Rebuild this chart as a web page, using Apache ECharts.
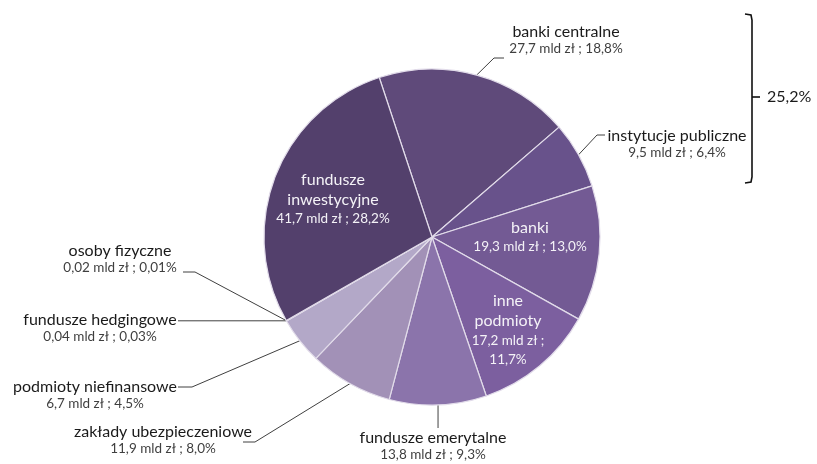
<!DOCTYPE html>
<html>
<head>
<meta charset="utf-8">
<script src="https://cdn.jsdelivr.net/npm/echarts@6/dist/echarts.min.js"></script>
<style>
  html, body { margin: 0; padding: 0; background: #ffffff; }
  #chart { width: 817px; height: 464px; }
</style>
</head>
<body>
<div id="chart"></div>
<script>
// Holders, listed clockwise from the top of the pie
const categories = [
  'banki centralne', 'instytucje publiczne', 'banki', 'inne podmioty',
  'fundusze emerytalne', 'zakłady ubezpieczeniowe', 'podmioty niefinansowe',
  'fundusze hedgingowe', 'osoby fizyczne', 'fundusze inwestycyjne'
];
// Holdings in mld zł
const holdings = [27.7, 9.5, 19.3, 17.2, 13.8, 11.9, 6.7, 0.04, 0.02, 41.7];
// Share of total, %
const shares = [18.8, 6.4, 13.0, 11.7, 9.3, 8.0, 4.5, 0.03, 0.01, 28.2];
// Categories grouped by the bracket on the right
const bracketGroup = [0, 1];

const sliceColors = [
  '#5F4A7A', '#68528B', '#735A94', '#7C5F9F', '#8B74AB',
  '#A291B7', '#B3A8C8', '#B3A8C8', '#B3A8C8', '#53406C'
];

// Wrapped names for labels drawn inside the slices
const insideNames = {
  2: 'banki',
  3: 'inne\npodmioty',
  9: 'fundusze\ninwestycyjne'
};

const FONT = 'Lato, "Open Sans", sans-serif';

function fmtNum(v, digits) {
  return v.toFixed(digits).replace('.', ',');
}
function fmtHolding(v) {
  return fmtNum(v, v < 1 ? 2 : 1);
}
function fmtShare(v) {
  return fmtNum(v, v < 0.1 ? 2 : 1) + '%';
}

// Label anchors (label centre) and leader-line bends
const labelSpots = {
  0: { x: 566, y: 40,  bend: [494, 58],  end: [504, 58] },
  1: { x: 677, y: 144, bend: [597, 135], end: [605, 135] },
  2: { x: 530, y: 237 },
  3: { x: 508, y: 330 },
  4: { x: 433, y: 446, bend: 'down', end: [null, 428] },
  5: { x: 163, y: 440, bend: [255, 442], end: [243, 442] },
  6: { x: 95,  y: 395, bend: [192, 387], end: [178, 387] },
  7: { x: 100, y: 328, bend: 'flat', end: [178, null] },
  8: { x: 120, y: 259, bend: [195, 272], end: [183, 272] },
  9: { x: 333, y: 199 }
};

const richOut = {
  n: { fontFamily: FONT, fontSize: 16, color: '#1a1a1a', lineHeight: 18, align: 'center' },
  v: { fontFamily: FONT, fontSize: 13.5, color: '#3f3f3f', lineHeight: 17, align: 'center' }
};
const richIn = {
  n: { fontFamily: FONT, fontSize: 16, color: '#f4f2f7', lineHeight: 20, align: 'center' },
  v: { fontFamily: FONT, fontSize: 13.5, color: '#f4f2f7', lineHeight: 19, align: 'center' }
};

const pieData = categories.map((name, i) => {
  const inside = insideNames[i] !== undefined;
  let valueText = fmtHolding(holdings[i]) + ' mld zł ; ' + fmtShare(shares[i]);
  if (i === 3) valueText = fmtHolding(holdings[i]) + ' mld zł ;\n' + fmtShare(shares[i]);
  const nameText = inside ? insideNames[i] : name;
  const text = nameText.split('\n').map(t => '{n|' + t + '}').join('\n') + '\n' +
               valueText.split('\n').map(t => '{v|' + t + '}').join('\n');
  return {
    name: name,
    value: holdings[i],
    itemStyle: { color: sliceColors[i] },
    label: {
      position: inside ? 'inside' : 'outside',
      formatter: text,
      rich: inside ? richIn : richOut
    },
    labelLine: { show: !inside }
  };
});

const chart = echarts.init(document.getElementById('chart'), null, { renderer: 'canvas' });

const groupTotal = bracketGroup.reduce((s, i) => s + shares[i], 0);

chart.setOption({
  backgroundColor: '#ffffff',
  animation: false,
  series: [{
    type: 'pie',
    center: [432, 237],
    radius: 168,
    startAngle: 108.3,
    clockwise: true,
    avoidLabelOverlap: false,
    data: pieData,
    itemStyle: { borderColor: '#e2dcea', borderWidth: 1.2 },
    label: { show: true, align: 'center', verticalAlign: 'middle' },
    labelLine: {
      show: true, length: 15, length2: 10,
      lineStyle: { color: '#404040', width: 1 }
    },
    emphasis: { disabled: true },
    labelLayout: function (params) {
      const spot = labelSpots[params.dataIndex];
      if (!spot) return {};
      const out = { x: spot.x, y: spot.y, align: 'center', verticalAlign: 'middle' };
      const pts = params.labelLinePoints;
      if (spot.bend && pts && pts[0]) {
        const p0 = [pts[0][0], pts[0][1]];
        let bend, end;
        if (spot.bend === 'down') {
          bend = [p0[0], spot.end[1]];
          end = [p0[0], spot.end[1]];
        } else if (spot.bend === 'flat') {
          bend = [spot.end[0] + 2, p0[1]];
          end = [spot.end[0], p0[1]];
        } else {
          bend = spot.bend;
          end = spot.end;
        }
        out.labelLinePoints = [p0, bend, end];
      }
      return out;
    }
  }],
  graphic: [
    {
      type: 'polyline',
      shape: { points: [[745, 14], [751, 15], [752, 20], [752, 177], [751, 182], [745, 183]] },
      style: { stroke: '#111111', lineWidth: 1.6, fill: null }
    },
    {
      type: 'line',
      shape: { x1: 752, y1: 97, x2: 760, y2: 97 },
      style: { stroke: '#111111', lineWidth: 1.6 }
    },
    {
      type: 'text',
      x: 767, y: 97,
      style: {
        text: fmtShare(groupTotal),
        fontFamily: FONT, fontSize: 16, fill: '#1a1a1a',
        verticalAlign: 'middle', align: 'left'
      }
    }
  ]
});
</script>
</body>
</html>
